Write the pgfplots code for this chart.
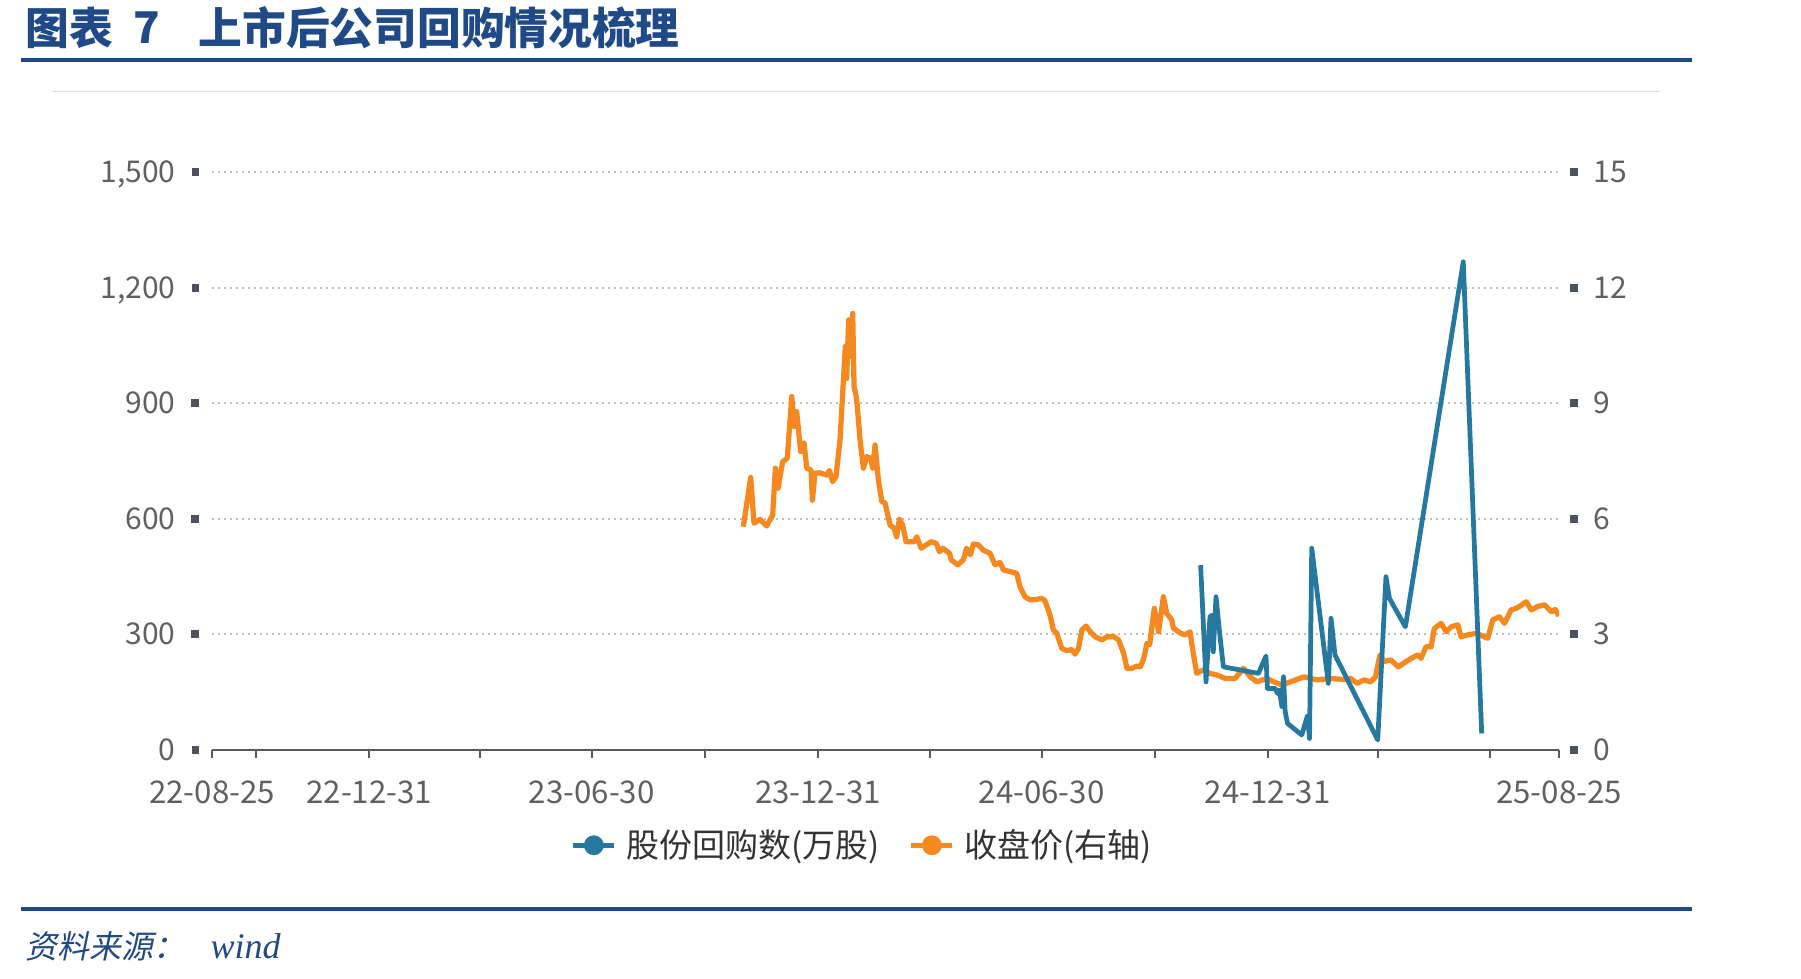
\documentclass[border=0pt]{standalone}
\usepackage{pgfplots}
\pgfplotsset{compat=1.18}
\usepackage{fontspec}
\setmainfont{Noto Sans CJK SC}
\newfontfamily\footcjk{Noto Sans CJK SC}[FakeSlant=0.2]
\newfontfamily\timesf{Liberation Serif}
\definecolor{navy}{HTML}{1F4A87}
\definecolor{bluel}{HTML}{25789F}
\definecolor{orangel}{HTML}{F5891F}
\definecolor{ticktext}{HTML}{606060}
\definecolor{sq}{HTML}{4D535C}
\definecolor{axline}{HTML}{5A5A5A}
\definecolor{gridc}{HTML}{BFBFBF}
\definecolor{legtext}{HTML}{333333}

% day index: 0 = 2022-08-25
\pgfplotstableread{
day price
432.3 5.80
438.3 7.08
441 5.89
445.9 5.99
451.3 5.82
456.2 6.10
458.4 7.32
460.6 6.80
464.3 7.49
468.1 7.58
471.7 9.18
473.8 8.40
475.7 8.79
479 7.75
481.7 7.97
483.9 7.32
487.4 7.27
488.5 6.49
490.6 7.19
494.7 7.20
500.2 7.14
502.3 7.26
505 6.97
507.7 7.10
511 8.05
515.3 10.48
516.4 9.65
518 11.17
519.7 10.22
521.3 11.34
522.4 9.44
524.5 9.13
527.3 8.05
530 7.32
532.7 7.62
536 7.58
537.6 7.32
539.5 7.92
542.2 7.01
545 6.45
547.6 6.42
551.7 5.84
555 5.76
557.1 5.54
559.3 6.00
562 5.84
564.7 5.41
571.5 5.41
573.4 5.54
577 5.24
585.1 5.41
589.2 5.37
591.9 5.15
594.6 5.24
600.1 5.11
601.4 4.94
606.8 4.81
611.3 4.94
613.9 5.24
617.1 5.07
619.5 5.35
623.5 5.33
627.6 5.19
633 5.11
637.1 4.81
641.2 4.87
643.9 4.68
652 4.61
654.7 4.59
657.4 4.24
661.5 3.98
665.6 3.90
671 3.91
675 3.94
677.7 3.88
681.8 3.51
684.6 3.12
687.3 3.03
691.4 2.64
695.5 2.58
699.6 2.61
702.3 2.49
705 2.64
707.8 3.12
711.3 3.22
714.6 3.07
718.7 2.94
724.1 2.86
728.2 2.94
733.6 2.95
737.7 2.86
741.7 2.51
744.5 2.12
748.3 2.12
752.7 2.18
755.3 2.16
758 2.36
760.7 2.77
762.9 2.73
766.7 3.68
770.2 3.07
774.1 3.98
776.8 3.55
780.9 3.38
782.2 3.17
787.6 3.04
791.7 2.99
795.8 3.07
797.1 2.77
801.2 1.99
806.6 2.08
812 1.99
817.5 1.95
824.4 1.86
832.5 1.86
839.3 2.12
844.8 1.90
850.2 1.77
858.4 1.86
863.8 1.77
870.6 1.69
877.5 1.77
888.3 1.90
899.2 1.82
910 1.86
920.9 1.83
926.4 1.86
931.8 1.73
937.2 1.82
942.7 1.77
946.7 1.90
950.3 2.47
953.5 2.30
959 2.34
965.3 2.16
971.7 2.30
975.8 2.38
981.2 2.47
983.7 2.38
987.8 2.68
991.9 2.68
994.6 3.16
1000.1 3.29
1004.2 3.07
1008.3 3.20
1013.6 3.25
1016.3 2.94
1021.8 2.99
1028.5 3.03
1035.3 2.94
1038 2.90
1042.1 3.38
1047.5 3.46
1051.6 3.29
1057.1 3.64
1061.2 3.68
1063.9 3.73
1069.3 3.85
1073.4 3.64
1078.9 3.73
1084.3 3.77
1089.8 3.59
1093 3.65
1096 3.48
}\pricetable

\pgfplotstableread{
day shares
804.4 480
808.8 177
812 346
813.4 350
814.7 255
816.9 398
819.6 312
822.9 216
851.4 199
857.6 244
858.7 160
865 160
866.9 147
868.5 156
870.5 113
871.8 190
873.2 100
875.1 69
886.7 39
891.3 89
893 30
894.8 524
908.3 173
910.5 342
913.7 247
948.5 26
955.2 450
958 394
971 320
1018.1 1268
1033.1 43
}\sharetable

\pgfplotsset{
  common/.style={
    at={(84.8pt,91.2pt)}, anchor=south west,
    scale only axis, width=538.8pt, height=231pt,
    xmin=0, xmax=1096,
    /pgf/number format/assume math mode=true,
    /pgf/number format/1000 sep={,},
    ytick style={draw=none},
    major tick length=3.2pt,
    tick align=outside,
    yticklabel style={font=\fontsize{12pt}{15pt}\selectfont, text=ticktext, inner sep=0pt},
    xticklabel style={font=\fontsize{12.5pt}{15pt}\selectfont, text=ticktext, inner sep=0pt},
  }
}

\begin{document}
\begin{tikzpicture}
\path[use as bounding box] (0,0) rectangle (720.4pt,391.2pt);
% header
\node[anchor=west, inner sep=0pt, text=navy, font=\fontsize{17.5pt}{20pt}\selectfont\bfseries] at (10pt,380pt) {图表};
\node[anchor=west, inner sep=0pt, text=navy, font=\fontsize{17.5pt}{20pt}\selectfont\bfseries] at (53pt,380pt) {7};
\node[anchor=west, inner sep=0pt, text=navy, font=\fontsize{17.5pt}{20pt}\selectfont\bfseries] at (79.2pt,380pt) {上市后公司回购情况梳理};
\draw[navy, line width=1.6pt] (8.4pt,367.2pt) -- (676.8pt,367.2pt);
\draw[black!12, line width=0.4pt] (20.8pt,354.4pt) -- (664pt,354.4pt);
% footer
\draw[navy, line width=1.6pt] (8.4pt,27.6pt) -- (676.8pt,27.6pt);
\node[anchor=west, inner sep=0pt, text=navy, font=\fontsize{12.8pt}{15pt}\footcjk] at (10pt,12.8pt) {资料来源：};
\node[anchor=west, inner sep=0pt, text=navy, font=\fontsize{14.4pt}{16pt}\timesf\itshape] at (84pt,12.8pt) {wind};

% right axis: closing price
\begin{axis}[common,
  ymin=0, ymax=15, ytick={0,3,...,15},
  axis x line=none, axis y line*=right,
  y axis line style={draw=none},
  ymajorgrids, grid style={gridc, line width=0.8pt, dash pattern=on 0.8pt off 1.6pt},
  yticklabel={\textcolor{sq}{\rule[2.5pt]{3.2pt}{3.2pt}}\hspace{6.4pt}\pgfmathprintnumber{\tick}},
  yticklabel style={anchor=base west, xshift=0.8pt, yshift=-4.05pt},
]
\addplot[color=orangel, line width=2.1pt, line join=round, mark=none] table[x=day, y=price] {\pricetable};
\end{axis}

% left axis: shares repurchased
\begin{axis}[common,
  ymin=0, ymax=1500, ytick={0,300,...,1500},
  axis x line*=bottom, axis y line*=left,
  y axis line style={draw=none},
  x axis line style={axline, line width=0.9pt},
  xtick style={axline, line width=0.8pt},
  xtick={0,36,128,218,309,401,493,584,675,767,859,949,1040,1096},
  xticklabels={22-08-25,,22-12-31,,23-06-30,,23-12-31,,24-06-30,,24-12-31,,,25-08-25},
  xticklabel style={anchor=base, yshift=-18.3pt},
  yticklabel={\pgfmathprintnumber{\tick}\hspace{6.4pt}\textcolor{sq}{\rule[2.5pt]{3.2pt}{3.2pt}}},
  yticklabel style={anchor=base east, xshift=-1.6pt, yshift=-4.05pt},
  legend columns=2,
  legend image code/.code={\draw[#1] (0pt,0pt) -- (16.4pt,0pt); \fill[#1] (8.2pt,0pt) circle (3pt);},
  legend style={draw=none, fill=none, inner sep=0pt, outer sep=0pt,
    at={(0.2665,-0.165)}, anchor=west,
    font=\fontsize{13.2pt}{16pt}\selectfont, text=legtext,
    /tikz/every odd column/.append style={column sep=2pt},
    /tikz/every even column/.append style={column sep=9.6pt}},
]
\addplot[color=bluel, line width=1.9pt, line join=round, mark=none] table[x=day, y=shares] {\sharetable};
\addlegendentry{股份回购数(万股)}
\addlegendimage{color=orangel, line width=1.9pt}
\addlegendentry{收盘价(右轴)}
\end{axis}
\end{tikzpicture}
\end{document}
